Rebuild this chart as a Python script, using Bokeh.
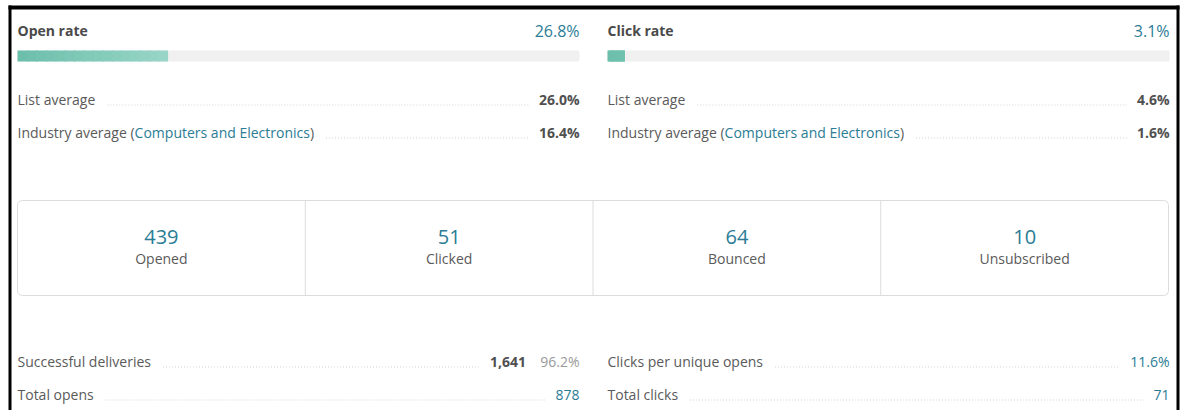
from bokeh.plotting import figure
from bokeh.models import Range1d
from bokeh.core.properties import value
from bokeh.embed import file_html
from bokeh.resources import INLINE

# ---------------- data ----------------
rate_titles = ["Open rate", "Click rate"]
rate_values = [26.8, 3.1]
list_average = [26.0, 4.6]
industry_average = [16.4, 1.6]
industry_name = "Computers and Electronics"

stat_counts = [439, 51, 64, 10]
stat_labels = ["Opened", "Clicked", "Bounced", "Unsubscribed"]

successful_deliveries = 1641
successful_deliveries_pct = 96.2
total_opens = 878
clicks_per_unique_opens = 11.6
total_clicks = 71

# ---------------- style ----------------
FONT = value("Open Sans")
TEAL = "#2b7c95"
LABEL = "#5a5a5a"
DARK = "#505050"
LIGHT = "#9a9a9a"
LEADER = "#d2d2d2"

# Open Sans advance widths (units per 2048 em) to place leader lines
_W = {' ': 532, '%': 1702, '(': 578, ')': 578, ',': 502, '.': 545,
      'A': 1354, 'B': 1352, 'C': 1298, 'D': 1503, 'E': 1143, 'F': 1059, 'G': 1497,
      'H': 1518, 'I': 598, 'J': 578, 'K': 1188, 'L': 1075, 'M': 1849, 'N': 1567,
      'O': 1614, 'P': 1239, 'Q': 1614, 'R': 1309, 'S': 1128, 'T': 1114, 'U': 1511,
      'V': 1282, 'W': 1993, 'X': 1163, 'Y': 1176, 'Z': 1159,
      'a': 1139, 'b': 1255, 'c': 975, 'd': 1255, 'e': 1149, 'f': 694, 'g': 1122,
      'h': 1257, 'i': 518, 'j': 518, 'k': 1075, 'l': 518, 'm': 1905, 'n': 1257,
      'o': 1237, 'p': 1255, 'q': 1255, 'r': 836, 's': 977, 't': 723, 'u': 1257,
      'v': 1026, 'w': 1593, 'x': 1073, 'y': 1028, 'z': 977}


def tw(s, size, bold=False):
    w = 0
    for ch in s:
        w += 1171 if ch.isdigit() else _W.get(ch, 1150)
    w = w * size / 2048.0
    return w * (1.04 if bold else 1.0)


def fmt_pct(v):
    return f"{v:.1f}%"


W, H = 1184, 410
p = figure(width=W, height=H, x_range=Range1d(0, W), y_range=Range1d(H, 0),
           output_backend="svg", toolbar_location=None, min_border=0,
           x_axis_location=None, y_axis_location=None, outline_line_color=None,
           background_fill_color="white", border_fill_color="white")
p.grid.visible = False


def txt(x, y, s, size, color, align="left", bold=False):
    p.text(x=[x], y=[y - 1], text=[s], text_font=FONT, text_font_size=f"{size}px",
           text_color=color, text_align=align, text_baseline="middle",
           text_font_style="bold" if bold else "normal")


def leader(x0, x1, y):
    p.segment(x0=[x0], y0=[y], x1=[x1], y1=[y], line_color=LEADER,
              line_dash="1 2", line_width=1)


cols = [(17, 579), (607, 1169)]

# ---------------- top: rates ----------------
for i, (x0, x1) in enumerate(cols):
    txt(x0, 31, rate_titles[i], 14, "#4a4a4a", bold=True)
    txt(x1, 31, fmt_pct(rate_values[i]), 16, TEAL, align="right")
    # track
    p.quad(left=[x0], right=[x1], top=[50], bottom=[61], fill_color="#f0f0f0",
           line_color=None, border_radius=2)
    # gradient fill
    fw = (x1 - x0) * rate_values[i] / 100.0
    n = 16
    c0 = (0x6c, 0xbf, 0xab)
    c1 = (0x98, 0xd5, 0xc6)
    lefts, rights, colors = [], [], []
    for k in range(n):
        t = k / (n - 1)
        col = tuple(int(round(c0[j] + (c1[j] - c0[j]) * t * min(1.0, fw / 150.0))) for j in range(3))
        lefts.append(x0 + fw * k / n)
        rights.append(min(x0 + fw, x0 + fw * (k + 1) / n + 1.5))
        colors.append("#%02x%02x%02x" % col)
    p.quad(left=lefts, right=rights, top=[50] * n, bottom=[61] * n,
           fill_color=colors, line_color=None)

    # list average
    y = 100
    label = "List average"
    val = fmt_pct(list_average[i])
    txt(x0, y, label, 14, LABEL)
    txt(x1, y, val, 14, DARK, align="right", bold=True)
    leader(x0 + tw(label, 14) + 12, x1 - tw(val, 14, True) - 10, y + 4.5)

    # industry average
    y = 133
    a = "Industry average ("
    txt(x0, y, a, 14, LABEL)
    xa = x0 + tw(a, 14)
    txt(xa, y, industry_name, 14, TEAL)
    xb = xa + tw(industry_name, 14)
    txt(xb, y, ")", 14, LABEL)
    xc = xb + tw(")", 14)
    val = fmt_pct(industry_average[i])
    txt(x1, y, val, 14, DARK, align="right", bold=True)
    leader(xc + 12, x1 - tw(val, 14, True) - 10, y + 4.5)

# ---------------- middle: stat boxes ----------------
bx0, bx1 = 17, 1168
p.quad(left=[bx0], right=[bx1], top=[200], bottom=[295], fill_color="white",
       line_color="#dcdcdc", line_width=1, border_radius=5)
nb = len(stat_counts)
cw = (bx1 - bx0) / nb
p.segment(x0=[bx0 + cw * k for k in range(1, nb)], y0=[200] * (nb - 1),
          x1=[bx0 + cw * k for k in range(1, nb)], y1=[295] * (nb - 1),
          line_color="#dcdcdc", line_width=1)
for k in range(nb):
    cx = bx0 + cw * (k + 0.5)
    txt(cx, 237, f"{stat_counts[k]:,}", 20, TEAL, align="center")
    txt(cx, 259, stat_labels[k], 14, LABEL, align="center")

# ---------------- bottom rows ----------------
# left column
x0, x1 = cols[0]
y = 362
label = "Successful deliveries"
sec = fmt_pct(successful_deliveries_pct)
prim = f"{successful_deliveries:,}"
txt(x0, y, label, 14, LABEL)
txt(x1, y, sec, 14, LIGHT, align="right")
px = x1 - tw(sec, 14) - 14
txt(px, y, prim, 14, DARK, align="right", bold=True)
leader(x0 + tw(label, 14) + 12, px - tw(prim, 14, True) - 10, y + 4.5)

y = 395
label = "Total opens"
v = f"{total_opens:,}"
txt(x0, y, label, 14, LABEL)
txt(x1, y, v, 14, TEAL, align="right")
leader(x0 + tw(label, 14) + 12, x1 - tw(v, 14) - 10, y + 4.5)

# right column
x0, x1 = cols[1]
y = 362
label = "Clicks per unique opens"
v = fmt_pct(clicks_per_unique_opens)
txt(x0, y, label, 14, LABEL)
txt(x1, y, v, 14, TEAL, align="right")
leader(x0 + tw(label, 14) + 12, x1 - tw(v, 14) - 10, y + 4.5)

y = 395
label = "Total clicks"
v = f"{total_clicks:,}"
txt(x0, y, label, 14, LABEL)
txt(x1, y, v, 14, TEAL, align="right")
leader(x0 + tw(label, 14) + 12, x1 - tw(v, 14) - 10, y + 4.5)

# ---------------- frame ----------------
p.quad(left=[8, 8, 1176], right=[11, 1179, 1179], top=[5, 5, 5], bottom=[410, 9, 410],
       fill_color="black", line_color=None)

open("out.html", "w").write(file_html(p, INLINE))
